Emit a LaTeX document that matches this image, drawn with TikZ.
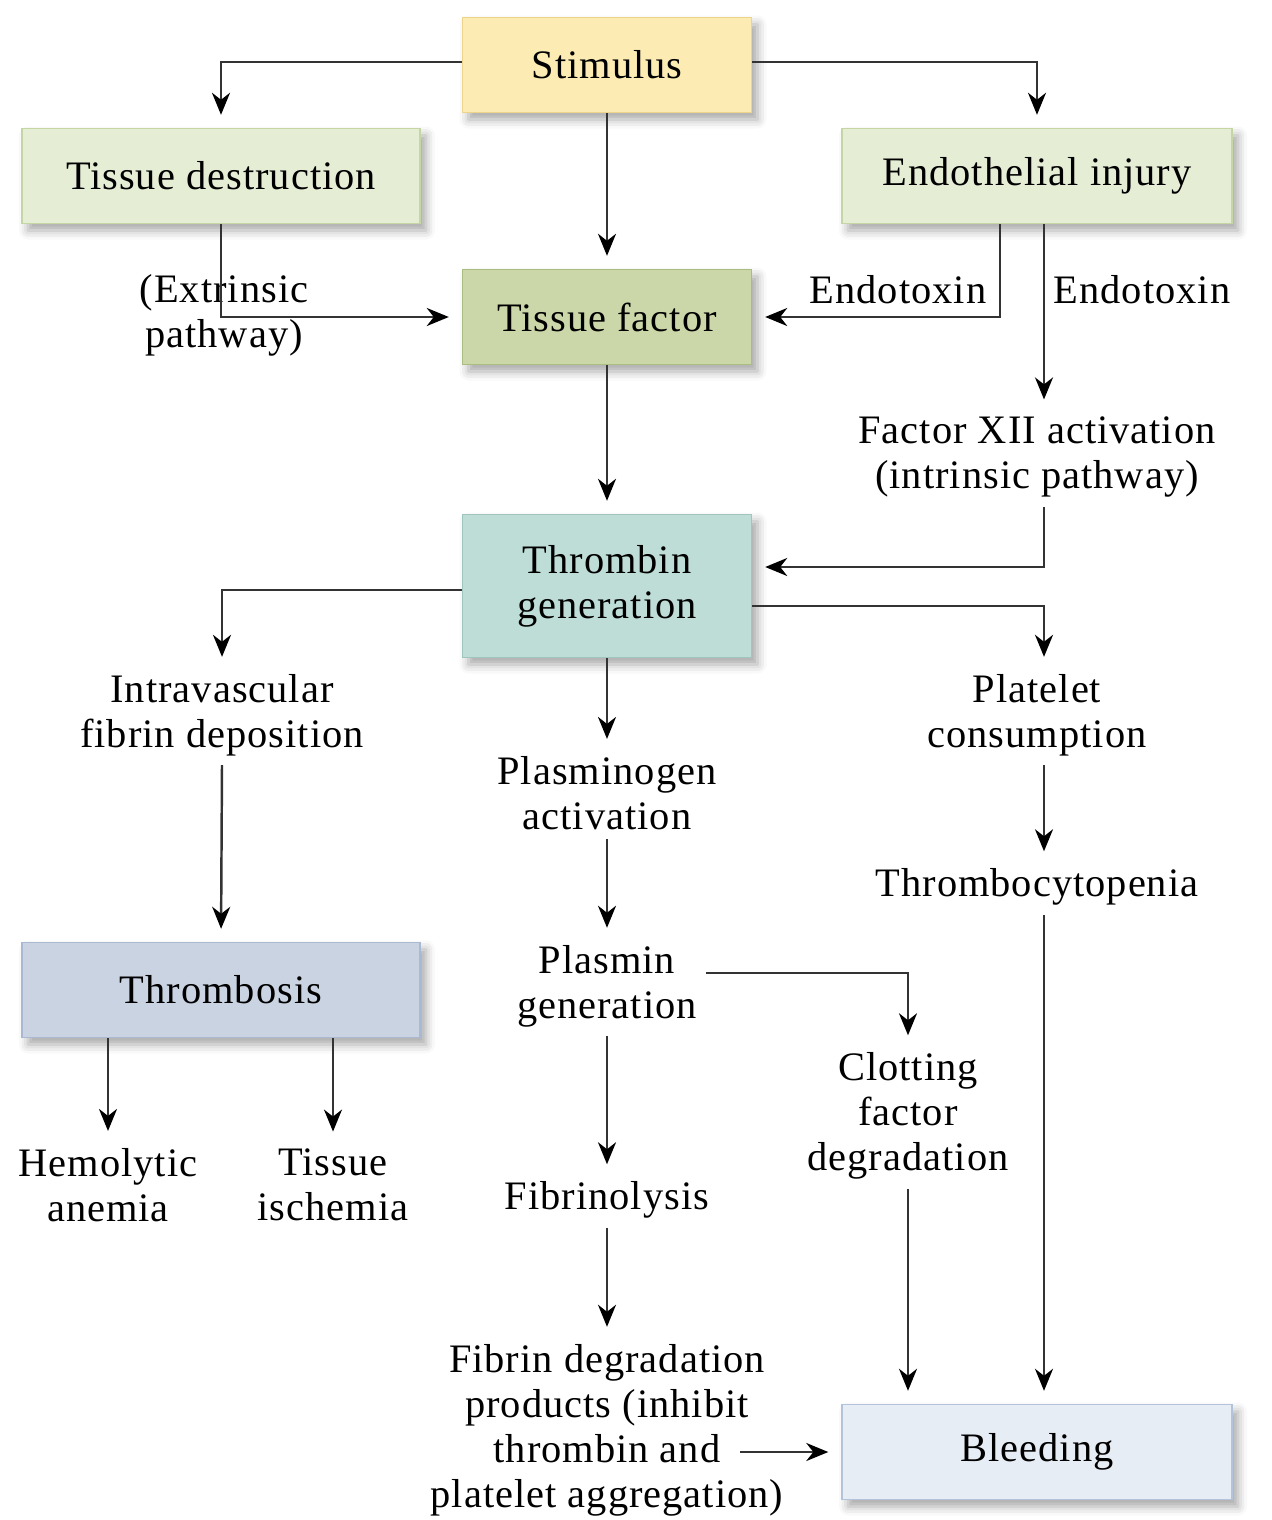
\documentclass[tikz,border=0pt]{standalone}
\usepackage{fontspec}
\setmainfont{Liberation Serif}[LetterSpace=2.5]
\usetikzlibrary{arrows.meta,calc,shadows.blur}

\definecolor{linec}{HTML}{333333}
\definecolor{stimfill}{HTML}{FCEBB3}
\definecolor{stimline}{HTML}{EDD48A}
\definecolor{palegreen}{HTML}{E5EDD5}
\definecolor{palegreenline}{HTML}{C5D6A5}
\definecolor{tffill}{HTML}{CBD7A9}
\definecolor{tfline}{HTML}{A9BC82}
\definecolor{thrfill}{HTML}{BDDDD6}
\definecolor{thrline}{HTML}{9EC6BE}
\definecolor{tbsfill}{HTML}{C9D3E2}
\definecolor{tbsline}{HTML}{A9B9D3}
\definecolor{bldfill}{HTML}{E7EDF5}
\definecolor{bldline}{HTML}{B3C3DC}

\begin{document}
\begin{tikzpicture}[x=0.2mm,y=-0.2mm,
    font=\fontsize{23}{25.6}\selectfont,
    box/.style={line width=0.8pt,minimum height=19mm,inner sep=0pt,align=center,
        blur shadow={shadow xshift=1.2mm,shadow yshift=-1.4mm,shadow blur radius=1.8mm,shadow opacity=35}},
    lbl/.style={align=center,inner sep=1.8mm},
    arr/.style={draw=linec,line width=1.4pt,
        -{Stealth[length=4.4mm,width=3.6mm,inset=1.4mm,color=black]},shorten >=1.6mm},
    tobox/.style={shorten >=2.6mm}]
\useasboundingbox (0,0) rectangle (1271,1520);

% boxes
\node[box,fill=stimfill,draw=stimline,minimum width=57.8mm] (stim) at (607,65) {Stimulus};
\node[box,fill=palegreen,draw=palegreenline,minimum width=79.6mm] (tdes) at (221,176) {Tissue destruction};
\node[box,fill=palegreen,draw=palegreenline,minimum width=78mm] (endo) at (1037,176) {Endothelial injury};
\node[box,fill=tffill,draw=tfline,minimum width=57.8mm] (tfac) at (607,317) {Tissue factor};
\node[box,fill=thrfill,draw=thrline,minimum width=57.8mm,minimum height=28.6mm] (thr) at (607,586) {Thrombin\\generation};
\node[box,fill=tbsfill,draw=tbsline,minimum width=79.6mm] (tbs) at (221,990) {Thrombosis};
\node[box,fill=bldfill,draw=bldline,minimum width=78mm] (bld) at (1037,1452) {Bleeding};

% labels
\node[lbl] (ext) at (224,315) {(Extrinsic\\pathway)};
\node[lbl] (etx1) at (898,290) {Endotoxin};
\node[lbl] (etx2) at (1142,290) {Endotoxin};
\node[lbl] (f12) at (1037,457) {Factor XII activation\\(intrinsic pathway)};
\node[lbl] (ivf) at (222,715) {Intravascular\\fibrin deposition};
\node[lbl] (plg) at (607,793) {Plasminogen\\activation};
\node[lbl] (plc) at (1037,715) {Platelet\\consumption};
\node[lbl] (tcp) at (1037,887) {Thrombocytopenia};
\node[lbl] (pls) at (607,986) {Plasmin\\generation};
\node[lbl] (clf) at (908,1116) {Clotting\\factor\\degradation};
\node[lbl] (hem) at (108,1185) {Hemolytic\\anemia};
\node[lbl] (isc) at (333,1185) {Tissue\\ischemia};
\node[lbl] (fbl) at (607,1200) {Fibrinolysis};
\node[lbl] (fdp) at (607,1430) {Fibrin degradation\\products (inhibit\\thrombin and\\platelet aggregation)};

% connectors
\draw[arr,tobox] ($(stim.west)+(0,-3)$) -| (tdes.north);
\draw[arr,tobox] ($(stim.east)+(0,-3)$) -| (endo.north);
\draw[arr,tobox] (stim.south) -- (tfac.north);
\draw[arr,tobox] (tdes.south) |- (tfac.west);
\draw[arr,tobox] ($(endo.south)+(-37,0)$) |- (tfac.east);
\draw[arr] ($(endo.south)+(7,0)$) -- ($(f12.north)+(7,0)$);
\draw[arr,tobox] (tfac.south) -- (thr.north);
\draw[arr,tobox] ($(f12.south)+(7,0)$) |- ($(thr.east)+(0,-19)$);
\draw[arr] ($(thr.west)+(0,4)$) -| (ivf.north);
\draw[arr] ($(thr.east)+(0,20)$) -| ($(plc.north)+(7,0)$);
\draw[arr] (thr.south) -- (plg.north);
\draw[arr,tobox] (ivf.south) -- (tbs.north);
\draw[arr] (plg.south) -- (pls.north);
\draw[arr] ($(plc.south)+(7,0)$) -- ($(tcp.north)+(7,0)$);
\draw[arr,tobox] ($(tcp.south)+(7,0)$) -- ($(bld.north)+(7,0)$);
\draw[arr] ($(pls.east)+(0,-13)$) -| (clf.north);
\draw[arr] (pls.south) -- (fbl.north);
\draw[arr] (hem.north |- tbs.south) -- (hem.north);
\draw[arr] (isc.north |- tbs.south) -- (isc.north);
\draw[arr,tobox] (clf.south) -- (clf.south |- bld.north);
\draw[arr] (fbl.south) -- (fdp.north);
\draw[arr,tobox] ($(fdp.center)+(133,22)$) -- (bld.west);
\end{tikzpicture}
\end{document}
